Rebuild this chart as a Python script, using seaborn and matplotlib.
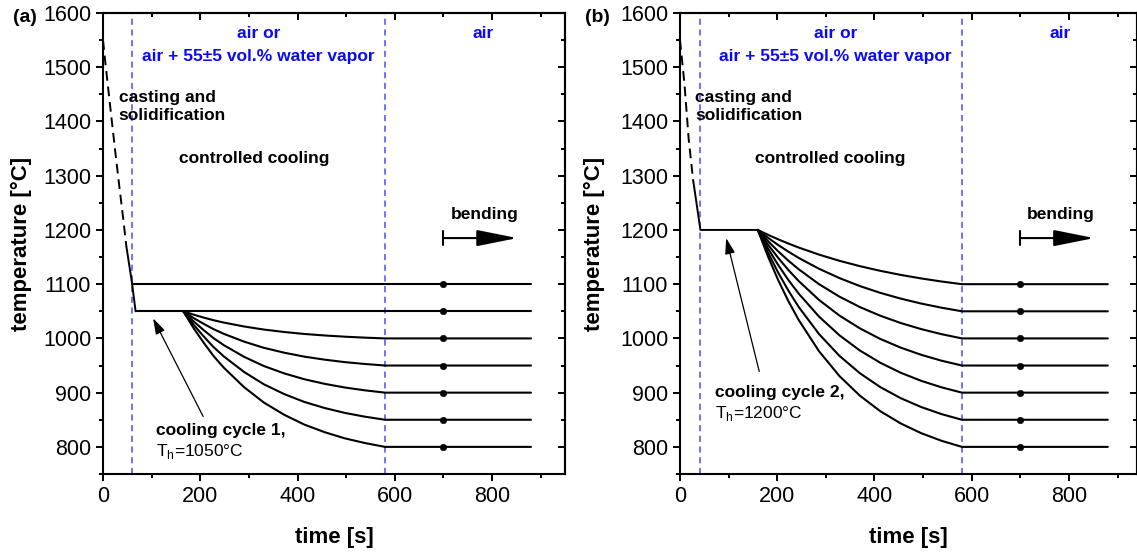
import matplotlib
matplotlib.use('Agg')
import matplotlib.pyplot as plt
import seaborn as sns
import pandas as pd
from matplotlib.ticker import MultipleLocator

# ---------------- data ----------------
# panel (a): cooling cycle 1, Th = 1050 C
cast_a_t = [0, 5, 14, 24, 32, 41, 48]
cast_a_T = [1550, 1507, 1434, 1354, 1292, 1225, 1170]
quench_a_t = [48, 60, 67]
quench_a_T = [1170, 1100, 1050]
hold_a_t0 = [60, 67]
hold_a_T = [1100, 1050]
cool_a_t = [165, 186, 207, 227, 248, 290, 331, 373, 414, 456, 497, 539, 580]
a_1000 = [1050, 1043.9, 1038.4, 1033.6, 1029.3, 1022.0, 1016.3, 1011.8, 1008.2, 1005.4, 1003.2, 1001.4, 1000]
a_950 = [1050, 1037.7, 1026.9, 1017.2, 1008.6, 994.1, 982.6, 973.6, 966.4, 960.8, 956.3, 952.8, 950]
a_900 = [1050, 1031.6, 1015.3, 1000.7, 987.8, 966.1, 949.0, 935.4, 924.7, 916.2, 909.5, 904.2, 900]
a_850 = [1050, 1025.5, 1003.7, 984.3, 967.1, 938.2, 915.3, 897.2, 882.9, 871.6, 862.7, 855.6, 850]
a_800 = [1050, 1019.4, 992.1, 967.9, 946.4, 910.2, 881.6, 859.0, 841.1, 827.0, 815.8, 807.0, 800]
dots_a_T = [1100, 1050, 1000, 950, 900, 850, 800]

# panel (b): cooling cycle 2, Th = 1200 C
cast_b_t = [0, 9, 18, 27]
cast_b_T = [1550, 1471, 1366, 1292]
quench_b_t = [27, 42, 160]
quench_b_T = [1292, 1200, 1200]
cool_b_t = [160, 181, 202, 223, 244, 286, 328, 370, 412, 454, 496, 538, 580]
b_1100 = [1200, 1191.0, 1182.7, 1174.9, 1167.6, 1154.5, 1143.1, 1133.2, 1124.6, 1117.1, 1110.6, 1104.9, 1100]
b_1050 = [1200, 1185.5, 1172.2, 1159.9, 1148.5, 1128.4, 1111.2, 1096.5, 1084.0, 1073.4, 1064.3, 1056.6, 1050]
b_1000 = [1200, 1179.4, 1160.5, 1143.3, 1127.6, 1100.0, 1077.0, 1057.8, 1041.8, 1028.4, 1017.2, 1007.8, 1000]
b_950 = [1200, 1172.9, 1148.4, 1126.1, 1105.9, 1070.9, 1042.1, 1018.5, 999.0, 983.0, 969.8, 958.9, 950]
b_900 = [1200, 1165.9, 1135.3, 1107.6, 1082.7, 1040.2, 1005.7, 977.7, 955.1, 936.7, 921.8, 909.8, 900]
b_850 = [1200, 1158.4, 1121.2, 1088.0, 1058.2, 1008.0, 967.8, 935.8, 910.2, 889.8, 873.5, 860.4, 850]
b_800 = [1200, 1151.0, 1107.4, 1068.6, 1034.2, 976.3, 930.6, 894.4, 865.8, 843.2, 825.3, 811.2, 800]
dots_b_T = [1100, 1050, 1000, 950, 900, 850, 800]

end_t = 880
dot_t = 700
gas_a = [60, 580]
gas_b = [42, 580]

# ---------------- style ----------------
sns.set_style('white')
plt.rcParams['font.family'] = ['Liberation Sans', 'DejaVu Sans']
plt.rcParams['axes.linewidth'] = 1.5
for k in ['text.color', 'axes.labelcolor', 'xtick.color', 'ytick.color',
          'axes.edgecolor']:
    plt.rcParams[k] = 'black'

W, H = 1137, 552
fig = plt.figure(figsize=(W / 100, H / 100), dpi=100)
axA = fig.add_axes([103 / W, 78 / H, 462 / W, 461 / H])
axB = fig.add_axes([680 / W, 78 / H, 457 / W, 461 / H])

BLUE = '#0a0af5'
DBLUE = '#4a4aff'
FS = 12.5


def build_df(t_list, curves):
    rows = []
    for i, T in enumerate(curves):
        for tt, TT in zip(t_list, T):
            rows.append((i, tt, TT))
        rows.append((i, end_t, T[-1]))
    return pd.DataFrame(rows, columns=['curve', 't', 'T'])


def panel(ax, cast_t, cast_T, q_t, q_T, holds, cool_t, curves, dots_T,
          gas, th_text, cyc_text, cyc_xy, arrow_tail, arrow_head, xmax,
          cast_x):
    sns.lineplot(x=cast_t, y=cast_T, ax=ax, color='black', lw=1.4,
                 linestyle=(0, (5, 3)), sort=False)
    sns.lineplot(x=q_t, y=q_T, ax=ax, color='black', lw=1.4, sort=False)
    for t0, T0 in holds:
        sns.lineplot(x=[t0, end_t], y=[T0, T0], ax=ax, color='black', lw=1.5)
    df = build_df(cool_t, curves)
    sns.lineplot(data=df, x='t', y='T', units='curve', estimator=None,
                 sort=False, color='black', lw=1.5, ax=ax)
    sns.scatterplot(x=[dot_t] * len(dots_T), y=dots_T, ax=ax, color='black',
                    s=22, edgecolor='black', zorder=5)
    for g in gas:
        ax.axvline(g, color=DBLUE, lw=1.1, linestyle=(0, (4, 3)), zorder=1)

    ax.set_xlim(0, xmax)
    ax.set_ylim(750, 1600)
    ax.xaxis.set_major_locator(MultipleLocator(200))
    ax.xaxis.set_minor_locator(MultipleLocator(100))
    ax.yaxis.set_major_locator(MultipleLocator(100))
    ax.yaxis.set_minor_locator(MultipleLocator(50))
    ax.tick_params(which='both', direction='out', width=1.4, labelsize=15.5,
                   bottom=True, left=True, top=False, right=False)
    ax.tick_params(which='major', length=5)
    ax.tick_params(which='minor', length=3)
    for s in ax.spines.values():
        s.set_linewidth(1.5)
        s.set_color('black')

    sx = ax.secondary_xaxis('top')
    sx.xaxis.set_major_locator(MultipleLocator(200))
    sx.xaxis.set_minor_locator(MultipleLocator(100))
    sx.tick_params(which='both', direction='in', labeltop=False, width=1.4)
    sx.tick_params(which='major', length=5)
    sx.tick_params(which='minor', length=3)
    sy = ax.secondary_yaxis('right')
    sy.yaxis.set_major_locator(MultipleLocator(100))
    sy.yaxis.set_minor_locator(MultipleLocator(50))
    sy.tick_params(which='both', direction='in', labelright=False, width=1.4)
    sy.tick_params(which='major', length=5)
    sy.tick_params(which='minor', length=3)

    ax.set_xlabel('time [s]', fontsize=16, fontweight='bold')
    ax.set_ylabel('temperature [°C]', fontsize=16, fontweight='bold')

    ax.text(320, 1563, 'air or', color=BLUE, fontsize=FS, fontweight='bold',
            ha='center', va='center')
    ax.text(320, 1519, 'air + 55±5 vol.% water vapor', color=BLUE,
            fontsize=FS, fontweight='bold', ha='center', va='center')
    ax.text(782, 1563, 'air', color=BLUE, fontsize=FS, fontweight='bold',
            ha='center', va='center')
    ax.text(cast_x, 1427, 'casting and\nsolidification', fontsize=FS,
            fontweight='bold', ha='left', va='center', linespacing=1.25)
    ax.text(310, 1332, 'controlled cooling', fontsize=FS, fontweight='bold',
            ha='center', va='center')
    ax.text(784, 1228, 'bending', fontsize=FS, fontweight='bold',
            ha='center', va='center')
    ax.plot([dot_t, dot_t], [1172, 1198], color='black', lw=1.5)
    ax.annotate('', xy=(852, 1185), xytext=(dot_t, 1185),
                arrowprops=dict(arrowstyle='-|>,head_length=1.25,head_width=0.25',
                                color='black', lw=1.5, mutation_scale=20,
                                shrinkA=0, shrinkB=0))
    ax.text(cyc_xy[0], cyc_xy[1], cyc_text, fontsize=FS, fontweight='bold',
            ha='left', va='center')
    ax.text(cyc_xy[0], cyc_xy[1] - 39, th_text, fontsize=FS,
            ha='left', va='center')
    ax.annotate('', xy=arrow_head, xytext=arrow_tail,
                arrowprops=dict(arrowstyle='-|>,head_length=0.8,head_width=0.25',
                                color='black', lw=0.9, mutation_scale=12,
                                shrinkA=0, shrinkB=0))


panel(axA, cast_a_t, cast_a_T, quench_a_t, quench_a_T,
      list(zip(hold_a_t0, hold_a_T)), cool_a_t,
      [a_1000, a_950, a_900, a_850, a_800], dots_a_T, gas_a,
      r'T$_\mathregular{h}$=1050°C', 'cooling cycle 1,', (109, 831),
      (206, 856), (103, 1037), 950, 32)
panel(axB, cast_b_t, cast_b_T, quench_b_t, quench_b_T, [], cool_b_t,
      [b_1100, b_1050, b_1000, b_950, b_900, b_850, b_800], dots_b_T, gas_b,
      r'T$_\mathregular{h}$=1200°C', 'cooling cycle 2,', (71, 900),
      (163, 939), (95, 1185), 940, 31)

axA.yaxis.set_label_coords(-0.154, 0.5)
axB.yaxis.set_label_coords(-0.164, 0.5)
axA.xaxis.set_label_coords(0.5, -0.115)
axB.xaxis.set_label_coords(0.5, -0.115)

fig.text(25 / W, 1 - 18 / H, '(a)', fontsize=14, fontweight='bold',
         ha='center', va='center')
fig.text(597 / W, 1 - 18 / H, '(b)', fontsize=14, fontweight='bold',
         ha='center', va='center')

fig.savefig('out.png', dpi=100)
